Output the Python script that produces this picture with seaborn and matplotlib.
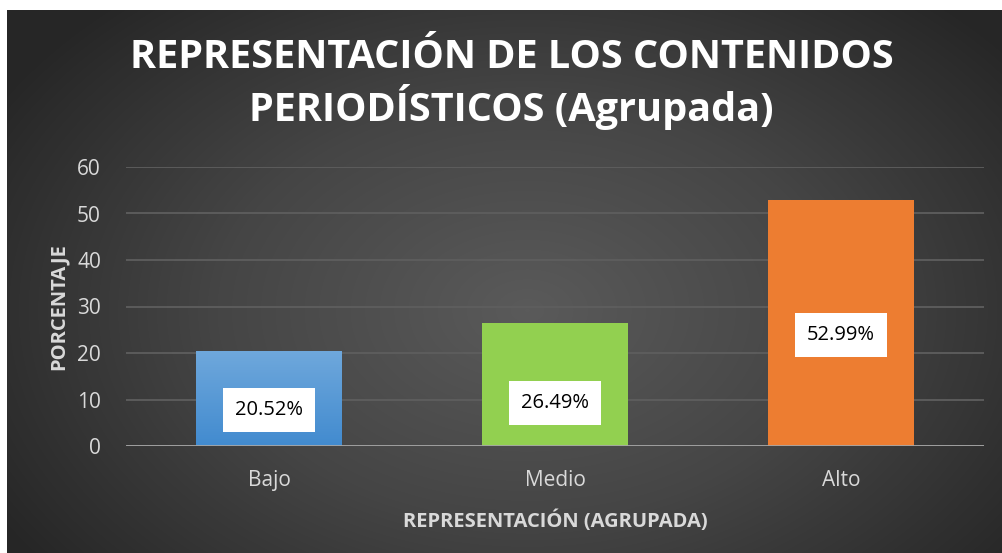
import numpy as np
import pandas as pd
import matplotlib.pyplot as plt
import seaborn as sns
from matplotlib.colors import LinearSegmentedColormap

# Data
categories = ['Bajo', 'Medio', 'Alto']
percentages = [20.52, 26.49, 52.99]
value_labels = ['20.52%', '26.49%', '52.99%']
bar_colors = ['#4f92d4', '#92d050', '#ed7d31']
label_frac = [0.375, 0.35, 0.45]  # where the value boxes sit inside each bar


def main():
    df = pd.DataFrame({'categoria': categories, 'porcentaje': percentages})

    sns.set_theme(style='dark')
    plt.rcParams['font.family'] = ['Open Sans', 'DejaVu Sans']

    fig = plt.figure(figsize=(10.03, 5.53), dpi=100)
    fig.patch.set_facecolor('white')

    # Dark radial gradient background (leaves a thin white strip top/left)
    bg = fig.add_axes([7 / 1003, 0, 996 / 1003, 543 / 553], zorder=-10)
    yy, xx = np.mgrid[0:543, 0:996]
    r = np.sqrt(((xx - 520) / 620) ** 2 + ((yy - 300) / 420) ** 2)
    r = np.clip(r, 0, 1)
    bg_cmap = LinearSegmentedColormap.from_list('bg', ['#5a5a5a', '#454545', '#262626'])
    bg.imshow(r, cmap=bg_cmap, aspect='auto', vmin=0, vmax=1)
    bg.axis('off')

    ax = fig.add_axes([126 / 1003, (553 - 446) / 553, 858 / 1003, 279 / 553])
    ax.set_facecolor('none')

    sns.barplot(data=df, x='categoria', y='porcentaje', hue='categoria',
                palette=bar_colors, width=0.507, legend=False, ax=ax,
                saturation=1, edgecolor='none', zorder=3)

    # Blue bar gets a light-to-dark gradient like the original
    blue = ax.patches[0]
    x0, y0 = blue.get_x(), blue.get_y()
    w, h = blue.get_width(), blue.get_height()
    grad = np.linspace(0, 1, 100).reshape(-1, 1)
    blue_cmap = LinearSegmentedColormap.from_list('blue', ['#428bcf', '#6fa8dc'])
    img = ax.imshow(grad, cmap=blue_cmap, extent=[x0, x0 + w, y0, y0 + h],
                    origin='lower', aspect='auto', zorder=3.5)
    img.set_clip_path(blue)

    # Value labels in white boxes
    for i, (val, lab) in enumerate(zip(percentages, value_labels)):
        ax.text(i, val * label_frac[i], lab, ha='center', va='center',
                fontsize=14.5, color='black', zorder=5,
                bbox=dict(boxstyle='square,pad=0.6', fc='white', ec='none'))

    ax.set_ylim(0, 60)
    ax.set_xlim(-0.5, 2.5)
    ax.set_yticks(range(0, 61, 10))
    ax.grid(axis='y', color='#5e5e5e', linewidth=1.3, zorder=0)
    ax.grid(axis='x', visible=False)
    ax.axhline(0, color='#a6a6a6', linewidth=2, zorder=4)
    for s in ax.spines.values():
        s.set_visible(False)

    ax.tick_params(axis='both', colors='#d9d9d9', labelsize=15, length=0)
    ax.tick_params(axis='y', pad=18)
    ax.tick_params(axis='x', pad=17)

    ax.set_xlabel('REPRESENTACIÓN (AGRUPADA)', fontsize=14.5, fontweight='bold',
                  color='#d9d9d9', labelpad=14)
    ax.set_ylabel('PORCENTAJE', fontsize=14.5, fontweight='bold',
                  color='#d9d9d9', labelpad=6)

    fig.text(0.51, 1 - 58 / 553, 'REPRESENTACIÓN DE LOS CONTENIDOS',
             ha='center', va='center', fontsize=28.5, fontweight='bold', color='white')
    fig.text(0.51, 1 - 107 / 553, 'PERIODÍSTICOS (Agrupada)',
             ha='center', va='center', fontsize=28.5, fontweight='bold', color='white')

    plt.savefig('out.png', dpi=100)


if __name__ == "__main__":
    main()
